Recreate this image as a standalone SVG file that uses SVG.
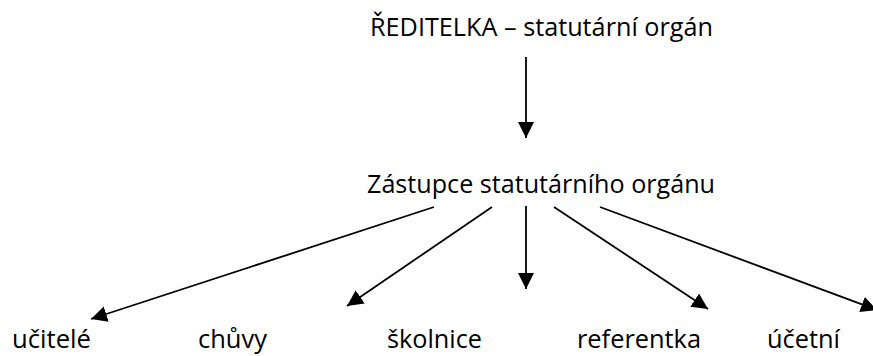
<svg xmlns="http://www.w3.org/2000/svg" width="873" height="356" viewBox="0 0 873 356">
  <defs>
    <style>
      .lbl { font-family: "Open Sans", "Noto Sans", "Liberation Sans", sans-serif; font-size: 26px; fill: #000; }
      .conn { stroke: #000; stroke-width: 1.8; fill: none; marker-end: url(#arrow); }
    </style>
    <marker id="arrow" viewBox="0 0 16 16" refX="16" refY="8" markerWidth="16" markerHeight="16" markerUnits="userSpaceOnUse" orient="auto">
      <path d="M0,0 L16,8 L0,16 Z" fill="#000"/>
    </marker>
  </defs>
  <rect width="873" height="356" fill="#fff"/>

  <g id="connectors">
    <line class="conn" x1="526" y1="57" x2="526" y2="138"/>
    <line class="conn" x1="434" y1="207" x2="91" y2="319"/>
    <line class="conn" x1="492" y1="207" x2="347" y2="306"/>
    <line class="conn" x1="526" y1="206" x2="526" y2="289"/>
    <line class="conn" x1="554" y1="207" x2="708" y2="309"/>
    <line class="conn" x1="600" y1="207" x2="877" y2="310"/>
  </g>

  <g id="reditelka">
    <text class="lbl" x="370" y="36" textLength="343" lengthAdjust="spacingAndGlyphs">ŘEDITELKA – statutární orgán</text>
  </g>
  <g id="zastupce">
    <text class="lbl" x="367" y="193" textLength="348" lengthAdjust="spacingAndGlyphs">Zástupce statutárního orgánu</text>
  </g>
  <g id="ucitele">
    <text class="lbl" x="12" y="348" textLength="79" lengthAdjust="spacingAndGlyphs">učitelé</text>
  </g>
  <g id="chuvy">
    <text class="lbl" x="198" y="348" textLength="69" lengthAdjust="spacingAndGlyphs">chůvy</text>
  </g>
  <g id="skolnice">
    <text class="lbl" x="387" y="348" textLength="95" lengthAdjust="spacingAndGlyphs">školnice</text>
  </g>
  <g id="referentka">
    <text class="lbl" x="577" y="348" textLength="124" lengthAdjust="spacingAndGlyphs">referentka</text>
  </g>
  <g id="ucetni">
    <text class="lbl" x="767" y="348" textLength="73" lengthAdjust="spacingAndGlyphs">účetní</text>
  </g>
</svg>
